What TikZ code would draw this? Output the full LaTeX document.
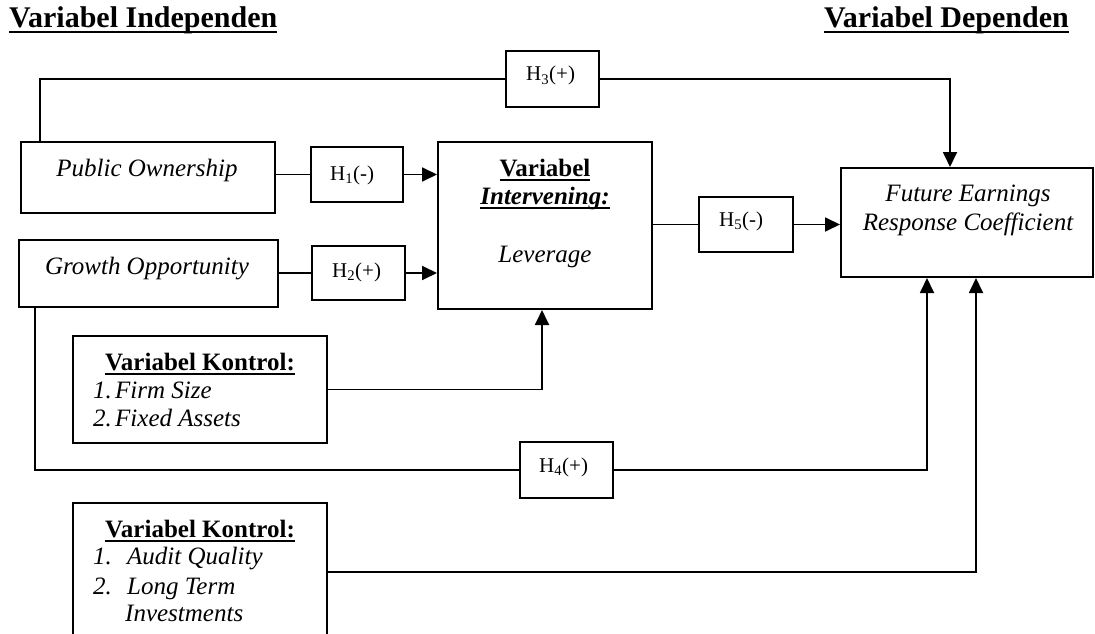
\documentclass[tikz,border=0pt]{standalone}
\usepackage{fontspec}
\setmainfont{Liberation Serif}
\usetikzlibrary{arrows.meta,calc}
\newcommand{\myul}[1]{\setbox0=\hbox{#1}\rlap{\rule[-5pt]{\wd0}{2.2pt}}\box0}
\tikzset{
  boxshape/.style={draw, line width=2pt, rectangle, inner sep=0pt},
  txt/.style={inner sep=0pt, anchor=base, font=\fontsize{25}{29}\selectfont\itshape},
  txtl/.style={inner sep=0pt, anchor=base west, font=\fontsize{25}{29}\selectfont\itshape},
  bold/.style={inner sep=0pt, anchor=base, font=\fontsize{25}{29}\selectfont\bfseries},
  hyp/.style={inner sep=0pt, anchor=base west, font=\fontsize{21}{24}\selectfont},
  head/.style={inner sep=0pt, font=\fontsize{30}{34}\selectfont\bfseries},
  conn/.style={line width=1.8pt},
  arr/.style={conn, -{Triangle[length=15pt,width=14pt]}}
}
\begin{document}
\begin{tikzpicture}[x=1pt,y=-1pt]
\useasboundingbox (0,0) rectangle (1095,634);
\clip (0,0) rectangle (1095,634);
% headers
\node[head, anchor=base west] (hind) at (9,28) {\myul{Variabel Independen}};
\node[head, anchor=base east] (hdep) at (1069,28) {\myul{Variabel Dependen}};
% boxes
\node[boxshape, minimum width=254pt, minimum height=71pt] (PO) at (148,177.5) {};
\node[boxshape, minimum width=259pt, minimum height=67pt] (GO) at (148.5,273.5) {};
\node[boxshape, minimum width=92pt, minimum height=55pt] (H1) at (357,174.5) {};
\node[boxshape, minimum width=93pt, minimum height=54pt] (H2) at (358.5,273) {};
\node[boxshape, minimum width=93pt, minimum height=56pt] (H3) at (552.5,79) {};
\node[boxshape, minimum width=214pt, minimum height=167pt] (LEV) at (545,225.5) {};
\node[boxshape, minimum width=94pt, minimum height=55pt] (H5) at (746,224.5) {};
\node[boxshape, minimum width=252pt, minimum height=109pt] (FERC) at (967,222.5) {};
\node[boxshape, minimum width=254pt, minimum height=107pt] (K1) at (200,389.5) {};
\node[boxshape, minimum width=93pt, minimum height=56pt] (H4) at (566.5,470) {};
\node[boxshape, minimum width=254pt, minimum height=138pt] (K2) at (200,572) {};
% texts
\node[txt] (tPO) at (147,176) {Public Ownership};
\node[txt] (tGO) at (147,274) {Growth Opportunity};
\node[hyp] (tH1) at (330,180) {H\textsubscript{1}(-)};
\node[hyp] (tH2) at (332,277) {H\textsubscript{2}(+)};
\node[hyp] (tH3) at (526,81) {H\textsubscript{3}(+)};
\node[hyp] (tH5) at (719,226) {H\textsubscript{5}(-)};
\node[hyp] (tH4) at (539,472) {H\textsubscript{4}(+)};
\node[bold] (tLEV1) at (545,176) {\myul{Variabel}};
\node[bold, font=\fontsize{25}{29}\selectfont\bfseries\itshape] (tLEV2) at (545,204) {\myul{Intervening:}};
\node[txt] (tLEV3) at (545,262) {Leverage};
\node[txt] (tF1) at (968,201) {Future Earnings};
\node[txt] (tF2) at (968,230) {Response Coefficient};
\node[bold] (tK1) at (200,370) {\myul{Variabel Kontrol:}};
\node[txtl] (tK1a) at (93,398) {1.};
\node[txtl] (tK1b) at (115,398) {Firm Size};
\node[txtl] (tK1c) at (93,426) {2.};
\node[txtl] (tK1d) at (115,426) {Fixed Assets};
\node[bold] (tK2) at (200,537) {\myul{Variabel Kontrol:}};
\node[txtl] (tK2a) at (93,564) {1.};
\node[txtl] (tK2b) at (127,564) {Audit Quality};
\node[txtl] (tK2c) at (93,594) {2.};
\node[txtl] (tK2d) at (127,594) {Long Term};
\node[txtl] (tK2e) at (125,621) {Investments};
% connectors
\draw[conn] ([xshift=20pt]PO.north west) |- (H3.west);
\draw[arr] (H3.east) -| ([xshift=110pt]FERC.north west);
\draw[conn] (H1.west -| PO.east) -- (H1.west);
\draw[arr] (H1.east) -- (H1.east -| LEV.west);
\draw[conn] (H2.west -| GO.east) -- (H2.west);
\draw[arr] (H2.east) -- (H2.east -| LEV.west);
\draw[conn] (H5.west -| LEV.east) -- (H5.west);
\draw[arr] (H5.east) -- (H5.east -| FERC.west);
\draw[arr] (K1.east) -| ([xshift=105pt]LEV.south west);
\draw[conn] ([xshift=17pt]GO.south west) |- (H4.west);
\draw[arr] (H4.east) -| ([xshift=87pt]FERC.south west);
\draw[arr] (K2.east) -| ([xshift=136pt]FERC.south west);
\end{tikzpicture}
\end{document}
